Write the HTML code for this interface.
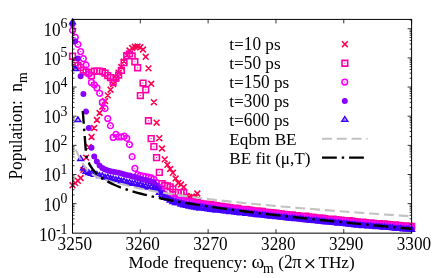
<!DOCTYPE html><html><head><meta charset="utf-8"><style>html,body{margin:0;padding:0;background:#fff}svg{display:block;will-change:transform;opacity:0.999}text{font-family:"Liberation Serif",serif;fill:#000}</style></head><body>
<svg width="443" height="278" viewBox="0 0 443 278">
<rect width="443" height="278" fill="#fff"/>
<path d="M69.6 182.4L75.4 188.2M69.6 188.2L75.4 182.4M72.3 180.2L78.1 186.0M72.3 186.0L78.1 180.2M75.0 177.9L80.8 183.7M75.0 183.7L80.8 177.9M77.7 175.1L83.5 180.9M77.7 180.9L83.5 175.1M80.5 167.1L86.3 172.9M80.5 172.9L86.3 167.1M83.2 154.7L89.0 160.5M83.2 160.5L89.0 154.7M85.9 144.1L91.7 149.9M85.9 149.9L91.7 144.1M88.6 134.1L94.4 139.9M88.6 139.9L94.4 134.1M91.3 125.1L97.1 130.9M91.3 130.9L97.1 125.1M94.0 117.1L99.8 122.9M94.0 122.9L99.8 117.1M96.7 110.1L102.5 115.9M96.7 115.9L102.5 110.1M99.4 103.8L105.2 109.6M99.4 109.6L105.2 103.8M102.2 98.1L108.0 103.9M102.2 103.9L108.0 98.1M104.9 92.5L110.7 98.3M104.9 98.3L110.7 92.5M107.6 86.8L113.4 92.6M107.6 92.6L113.4 86.8M110.3 81.1L116.1 86.9M110.3 86.9L116.1 81.1M113.0 75.5L118.8 81.3M113.0 81.3L118.8 75.5M115.7 69.8L121.5 75.6M115.7 75.6L121.5 69.8M118.4 64.1L124.2 69.9M118.4 69.9L124.2 64.1M121.1 58.5L126.9 64.3M121.1 64.3L126.9 58.5M123.9 52.1L129.7 57.9M123.9 57.9L129.7 52.1M126.6 47.6L132.4 53.4M126.6 53.4L132.4 47.6M129.3 45.1L135.1 50.9M129.3 50.9L135.1 45.1M132.0 43.9L137.8 49.7M132.0 49.7L137.8 43.9M134.7 43.6L140.5 49.4M134.7 49.4L140.5 43.6M137.4 44.4L143.2 50.2M137.4 50.2L143.2 44.4M140.1 46.6L145.9 52.4M140.1 52.4L145.9 46.6M142.8 53.9L148.6 59.7M142.8 59.7L148.6 53.9M145.6 65.5L151.4 71.3M145.6 71.3L151.4 65.5M148.3 80.9L154.1 86.7M148.3 86.7L154.1 80.9M151.0 99.3L156.8 105.1M151.0 105.1L156.8 99.3M153.7 119.8L159.5 125.6M153.7 125.6L159.5 119.8M156.4 135.3L162.2 141.1M156.4 141.1L162.2 135.3M159.1 145.6L164.9 151.4M159.1 151.4L164.9 145.6M161.8 156.5L167.6 162.3M161.8 162.3L167.6 156.5M164.5 161.9L170.3 167.7M164.5 167.7L170.3 161.9M167.3 166.1L173.1 171.9M167.3 171.9L173.1 166.1M170.0 169.9L175.8 175.7M170.0 175.7L175.8 169.9M172.7 175.6L178.5 181.4M172.7 181.4L178.5 175.6M175.4 180.1L181.2 185.9M175.4 185.9L181.2 180.1M178.1 181.6L183.9 187.4M178.1 187.4L183.9 181.6M180.8 184.1L186.6 189.9M180.8 189.9L186.6 184.1M183.5 193.1L189.3 198.9M183.5 198.9L189.3 193.1M186.3 194.1L192.1 199.9M186.3 199.9L192.1 194.1M189.0 193.6L194.8 199.4M189.0 199.4L194.8 193.6M191.7 195.1L197.5 200.9M191.7 200.9L197.5 195.1M194.4 190.6L200.2 196.4M194.4 196.4L200.2 190.6M197.1 201.4L202.9 207.2M197.1 207.2L202.9 201.4M199.8 201.5L205.6 207.3M199.8 207.3L205.6 201.5M202.5 201.9L208.3 207.7M202.5 207.7L208.3 201.9M205.2 201.8L211.0 207.6M205.2 207.6L211.0 201.8M208.0 202.7L213.8 208.5M208.0 208.5L213.8 202.7M210.7 203.1L216.5 208.9M210.7 208.9L216.5 203.1M213.4 203.5L219.2 209.3M213.4 209.3L219.2 203.5M216.1 203.7L221.9 209.5M216.1 209.5L221.9 203.7M218.8 204.2L224.6 210.0M218.8 210.0L224.6 204.2M221.5 204.4L227.3 210.2M221.5 210.2L227.3 204.4M224.2 204.6L230.0 210.4M224.2 210.4L230.0 204.6M226.9 205.5L232.7 211.3M226.9 211.3L232.7 205.5M229.7 205.8L235.5 211.6M229.7 211.6L235.5 205.8M232.4 206.3L238.2 212.1M232.4 212.1L238.2 206.3M235.1 206.3L240.9 212.1M235.1 212.1L240.9 206.3M237.8 206.5L243.6 212.3M237.8 212.3L243.6 206.5M240.5 206.8L246.3 212.6M240.5 212.6L246.3 206.8M243.2 206.9L249.0 212.7M243.2 212.7L249.0 206.9M245.9 207.8L251.7 213.6M245.9 213.6L251.7 207.8M248.6 207.7L254.4 213.5M248.6 213.5L254.4 207.7M251.4 208.0L257.2 213.8M251.4 213.8L257.2 208.0M254.1 208.6L259.9 214.4M254.1 214.4L259.9 208.6M256.8 209.3L262.6 215.1M256.8 215.1L262.6 209.3M259.5 209.4L265.3 215.2M259.5 215.2L265.3 209.4M262.2 209.4L268.0 215.2M262.2 215.2L268.0 209.4M264.9 209.8L270.7 215.6M264.9 215.6L270.7 209.8M267.6 210.5L273.4 216.3M267.6 216.3L273.4 210.5M270.3 210.6L276.1 216.4M270.3 216.4L276.1 210.6M273.1 210.8L278.9 216.6M273.1 216.6L278.9 210.8M275.8 211.3L281.6 217.1M275.8 217.1L281.6 211.3M278.5 211.8L284.3 217.6M278.5 217.6L284.3 211.8M281.2 212.4L287.0 218.2M281.2 218.2L287.0 212.4M283.9 211.9L289.7 217.7M283.9 217.7L289.7 211.9M286.6 212.4L292.4 218.2M286.6 218.2L292.4 212.4M289.3 212.6L295.1 218.4M289.3 218.4L295.1 212.6M292.0 212.5L297.8 218.3M292.0 218.3L297.8 212.5M294.8 213.2L300.6 219.0M294.8 219.0L300.6 213.2M297.5 213.5L303.3 219.3M297.5 219.3L303.3 213.5M300.2 214.3L306.0 220.1M300.2 220.1L306.0 214.3M302.9 214.3L308.7 220.1M302.9 220.1L308.7 214.3M305.6 214.2L311.4 220.0M305.6 220.0L311.4 214.2M308.3 215.1L314.1 220.9M308.3 220.9L314.1 215.1M311.0 215.1L316.8 220.9M311.0 220.9L316.8 215.1M313.8 215.0L319.6 220.8M313.8 220.8L319.6 215.0M316.5 215.6L322.3 221.4M316.5 221.4L322.3 215.6M319.2 215.9L325.0 221.7M319.2 221.7L325.0 215.9M321.9 216.1L327.7 221.9M321.9 221.9L327.7 216.1M324.6 216.6L330.4 222.4M324.6 222.4L330.4 216.6M327.3 216.3L333.1 222.1M327.3 222.1L333.1 216.3M330.0 217.0L335.8 222.8M330.0 222.8L335.8 217.0M332.7 217.6L338.5 223.4M332.7 223.4L338.5 217.6M335.5 217.8L341.3 223.6M335.5 223.6L341.3 217.8M338.2 218.2L344.0 224.0M338.2 224.0L344.0 218.2M340.9 218.5L346.7 224.3M340.9 224.3L346.7 218.5M343.6 218.8L349.4 224.6M343.6 224.6L349.4 218.8M346.3 218.4L352.1 224.2M346.3 224.2L352.1 218.4M349.0 219.2L354.8 225.0M349.0 225.0L354.8 219.2M351.7 218.8L357.5 224.6M351.7 224.6L357.5 218.8M354.4 219.4L360.2 225.2M354.4 225.2L360.2 219.4M357.2 219.3L363.0 225.1M357.2 225.1L363.0 219.3M359.9 220.3L365.7 226.1M359.9 226.1L365.7 220.3M362.6 220.6L368.4 226.4M362.6 226.4L368.4 220.6M365.3 220.4L371.1 226.2M365.3 226.2L371.1 220.4M368.0 221.2L373.8 227.0M368.0 227.0L373.8 221.2M370.7 220.8L376.5 226.6M370.7 226.6L376.5 220.8M373.4 221.2L379.2 227.0M373.4 227.0L379.2 221.2M376.1 221.4L381.9 227.2M376.1 227.2L381.9 221.4M378.9 221.4L384.7 227.2M378.9 227.2L384.7 221.4M381.6 222.0L387.4 227.8M381.6 227.8L387.4 222.0M384.3 222.6L390.1 228.4M384.3 228.4L390.1 222.6M387.0 222.1L392.8 227.9M387.0 227.9L392.8 222.1M389.7 222.8L395.5 228.6M389.7 228.6L395.5 222.8M392.4 222.8L398.2 228.6M392.4 228.6L398.2 222.8M395.1 223.5L400.9 229.3M395.1 229.3L400.9 223.5M397.8 223.4L403.6 229.2M397.8 229.2L403.6 223.4M400.6 223.6L406.4 229.4M400.6 229.4L406.4 223.6M403.3 223.9L409.1 229.7M403.3 229.7L409.1 223.9M406.0 224.0L411.8 229.8M406.0 229.8L411.8 224.0M408.7 223.8L414.5 229.6M408.7 229.6L414.5 223.8" stroke="#ff0050" stroke-width="1.55" fill="none"/>
<path d="M69.7 53.4h5.7v5.7h-5.7zM72.4 60.1h5.7v5.7h-5.7zM75.1 62.6h5.7v5.7h-5.7zM77.8 64.5h5.7v5.7h-5.7zM80.5 67.2h5.7v5.7h-5.7zM83.2 69.0h5.7v5.7h-5.7zM85.9 69.8h5.7v5.7h-5.7zM88.6 72.8h5.7v5.7h-5.7zM91.4 68.4h5.7v5.7h-5.7zM94.1 68.0h5.7v5.7h-5.7zM96.8 68.2h5.7v5.7h-5.7zM99.5 68.8h5.7v5.7h-5.7zM102.2 70.2h5.7v5.7h-5.7zM104.9 72.7h5.7v5.7h-5.7zM107.6 74.7h5.7v5.7h-5.7zM110.3 79.2h5.7v5.7h-5.7zM113.1 75.2h5.7v5.7h-5.7zM115.8 72.2h5.7v5.7h-5.7zM118.5 67.5h5.7v5.7h-5.7zM121.2 59.8h5.7v5.7h-5.7zM123.9 53.1h5.7v5.7h-5.7zM126.6 51.1h5.7v5.7h-5.7zM129.3 53.1h5.7v5.7h-5.7zM132.0 58.9h5.7v5.7h-5.7zM134.8 64.9h5.7v5.7h-5.7zM137.5 92.7h5.7v5.7h-5.7zM140.2 80.2h5.7v5.7h-5.7zM142.9 86.9h5.7v5.7h-5.7zM145.6 117.9h5.7v5.7h-5.7zM148.3 135.8h5.7v5.7h-5.7zM151.0 143.8h5.7v5.7h-5.7zM153.7 154.8h5.7v5.7h-5.7zM156.5 169.5h5.7v5.7h-5.7zM159.2 180.7h5.7v5.7h-5.7zM161.9 182.6h5.7v5.7h-5.7zM164.6 183.0h5.7v5.7h-5.7zM167.3 184.0h5.7v5.7h-5.7zM170.0 186.2h5.7v5.7h-5.7zM172.7 189.5h5.7v5.7h-5.7zM175.4 189.5h5.7v5.7h-5.7zM178.2 189.6h5.7v5.7h-5.7zM180.9 189.8h5.7v5.7h-5.7zM183.6 197.9h5.7v5.7h-5.7zM186.3 197.9h5.7v5.7h-5.7zM189.0 198.8h5.7v5.7h-5.7zM191.7 199.5h5.7v5.7h-5.7zM194.4 199.7h5.7v5.7h-5.7zM197.2 200.5h5.7v5.7h-5.7zM199.9 201.1h5.7v5.7h-5.7zM202.6 201.3h5.7v5.7h-5.7zM205.3 201.6h5.7v5.7h-5.7zM208.0 201.6h5.7v5.7h-5.7zM210.7 202.4h5.7v5.7h-5.7zM213.4 202.9h5.7v5.7h-5.7zM216.1 203.2h5.7v5.7h-5.7zM218.9 203.5h5.7v5.7h-5.7zM221.6 204.1h5.7v5.7h-5.7zM224.3 204.2h5.7v5.7h-5.7zM227.0 204.7h5.7v5.7h-5.7zM229.7 205.2h5.7v5.7h-5.7zM232.4 205.2h5.7v5.7h-5.7zM235.1 205.6h5.7v5.7h-5.7zM237.8 206.5h5.7v5.7h-5.7zM240.6 206.6h5.7v5.7h-5.7zM243.3 206.5h5.7v5.7h-5.7zM246.0 207.0h5.7v5.7h-5.7zM248.7 207.5h5.7v5.7h-5.7zM251.4 208.0h5.7v5.7h-5.7zM254.1 208.1h5.7v5.7h-5.7zM256.8 208.3h5.7v5.7h-5.7zM259.5 208.6h5.7v5.7h-5.7zM262.3 209.2h5.7v5.7h-5.7zM265.0 209.5h5.7v5.7h-5.7zM267.7 209.7h5.7v5.7h-5.7zM270.4 210.1h5.7v5.7h-5.7zM273.1 210.4h5.7v5.7h-5.7zM275.8 210.9h5.7v5.7h-5.7zM278.5 211.0h5.7v5.7h-5.7zM281.2 211.5h5.7v5.7h-5.7zM284.0 211.9h5.7v5.7h-5.7zM286.7 212.1h5.7v5.7h-5.7zM289.4 212.1h5.7v5.7h-5.7zM292.1 212.9h5.7v5.7h-5.7zM294.8 212.8h5.7v5.7h-5.7zM297.5 213.3h5.7v5.7h-5.7zM300.2 213.3h5.7v5.7h-5.7zM303.0 213.4h5.7v5.7h-5.7zM305.7 214.1h5.7v5.7h-5.7zM308.4 214.4h5.7v5.7h-5.7zM311.1 214.6h5.7v5.7h-5.7zM313.8 215.0h5.7v5.7h-5.7zM316.5 215.1h5.7v5.7h-5.7zM319.2 215.3h5.7v5.7h-5.7zM321.9 215.7h5.7v5.7h-5.7zM324.7 216.4h5.7v5.7h-5.7zM327.4 216.4h5.7v5.7h-5.7zM330.1 216.4h5.7v5.7h-5.7zM332.8 216.9h5.7v5.7h-5.7zM335.5 217.0h5.7v5.7h-5.7zM338.2 217.3h5.7v5.7h-5.7zM340.9 217.8h5.7v5.7h-5.7zM343.6 217.8h5.7v5.7h-5.7zM346.4 217.8h5.7v5.7h-5.7zM349.1 218.3h5.7v5.7h-5.7zM351.8 218.7h5.7v5.7h-5.7zM354.5 219.0h5.7v5.7h-5.7zM357.2 219.5h5.7v5.7h-5.7zM359.9 219.3h5.7v5.7h-5.7zM362.6 219.9h5.7v5.7h-5.7zM365.3 220.0h5.7v5.7h-5.7zM368.1 220.1h5.7v5.7h-5.7zM370.8 220.6h5.7v5.7h-5.7zM373.5 220.7h5.7v5.7h-5.7zM376.2 220.7h5.7v5.7h-5.7zM378.9 221.3h5.7v5.7h-5.7zM381.6 221.1h5.7v5.7h-5.7zM384.3 221.6h5.7v5.7h-5.7zM387.0 221.8h5.7v5.7h-5.7zM389.8 222.1h5.7v5.7h-5.7zM392.5 222.1h5.7v5.7h-5.7zM395.2 222.5h5.7v5.7h-5.7zM397.9 222.7h5.7v5.7h-5.7zM400.6 223.1h5.7v5.7h-5.7zM403.3 223.0h5.7v5.7h-5.7zM406.0 223.4h5.7v5.7h-5.7zM408.8 223.6h5.7v5.7h-5.7z" stroke="#ff00aa" stroke-width="1.6" fill="none"/>
<path d="M72.0 55.7h1.0v1.0h-1.0zM74.7 62.5h1.0v1.0h-1.0zM77.4 65.0h1.0v1.0h-1.0zM80.1 66.8h1.0v1.0h-1.0zM82.9 69.5h1.0v1.0h-1.0zM85.6 71.3h1.0v1.0h-1.0zM88.3 72.1h1.0v1.0h-1.0zM91.0 75.1h1.0v1.0h-1.0zM93.7 70.7h1.0v1.0h-1.0zM96.4 70.3h1.0v1.0h-1.0zM99.1 70.5h1.0v1.0h-1.0zM101.8 71.1h1.0v1.0h-1.0zM104.6 72.5h1.0v1.0h-1.0zM107.3 75.0h1.0v1.0h-1.0zM110.0 77.0h1.0v1.0h-1.0zM112.7 81.5h1.0v1.0h-1.0zM115.4 77.5h1.0v1.0h-1.0zM118.1 74.5h1.0v1.0h-1.0zM120.8 69.8h1.0v1.0h-1.0zM123.5 62.1h1.0v1.0h-1.0zM126.3 55.5h1.0v1.0h-1.0zM129.0 53.5h1.0v1.0h-1.0zM131.7 55.5h1.0v1.0h-1.0zM134.4 61.3h1.0v1.0h-1.0zM137.1 67.2h1.0v1.0h-1.0zM139.8 95.0h1.0v1.0h-1.0zM142.5 82.5h1.0v1.0h-1.0zM145.2 89.2h1.0v1.0h-1.0zM148.0 120.2h1.0v1.0h-1.0zM150.7 138.1h1.0v1.0h-1.0zM153.4 146.2h1.0v1.0h-1.0zM156.1 157.1h1.0v1.0h-1.0zM158.8 171.8h1.0v1.0h-1.0zM161.5 183.0h1.0v1.0h-1.0zM164.2 184.9h1.0v1.0h-1.0zM166.9 185.3h1.0v1.0h-1.0zM169.7 186.3h1.0v1.0h-1.0zM172.4 188.5h1.0v1.0h-1.0zM175.1 191.8h1.0v1.0h-1.0zM177.8 191.8h1.0v1.0h-1.0zM180.5 191.9h1.0v1.0h-1.0zM183.2 192.1h1.0v1.0h-1.0zM185.9 200.3h1.0v1.0h-1.0zM188.7 200.3h1.0v1.0h-1.0zM191.4 201.2h1.0v1.0h-1.0zM194.1 201.8h1.0v1.0h-1.0zM196.8 202.1h1.0v1.0h-1.0zM199.5 202.8h1.0v1.0h-1.0zM202.2 203.5h1.0v1.0h-1.0zM204.9 203.7h1.0v1.0h-1.0zM207.6 203.9h1.0v1.0h-1.0zM210.4 204.0h1.0v1.0h-1.0zM213.1 204.8h1.0v1.0h-1.0zM215.8 205.2h1.0v1.0h-1.0zM218.5 205.6h1.0v1.0h-1.0zM221.2 205.8h1.0v1.0h-1.0zM223.9 206.4h1.0v1.0h-1.0zM226.6 206.6h1.0v1.0h-1.0zM229.3 207.0h1.0v1.0h-1.0zM232.1 207.5h1.0v1.0h-1.0zM234.8 207.5h1.0v1.0h-1.0zM237.5 208.0h1.0v1.0h-1.0zM240.2 208.8h1.0v1.0h-1.0zM242.9 208.9h1.0v1.0h-1.0zM245.6 208.8h1.0v1.0h-1.0zM248.3 209.4h1.0v1.0h-1.0zM251.0 209.9h1.0v1.0h-1.0zM253.8 210.3h1.0v1.0h-1.0zM256.5 210.5h1.0v1.0h-1.0zM259.2 210.7h1.0v1.0h-1.0zM261.9 211.0h1.0v1.0h-1.0zM264.6 211.6h1.0v1.0h-1.0zM267.3 211.8h1.0v1.0h-1.0zM270.0 212.0h1.0v1.0h-1.0zM272.7 212.4h1.0v1.0h-1.0zM275.5 212.7h1.0v1.0h-1.0zM278.2 213.3h1.0v1.0h-1.0zM280.9 213.3h1.0v1.0h-1.0zM283.6 213.8h1.0v1.0h-1.0zM286.3 214.2h1.0v1.0h-1.0zM289.0 214.4h1.0v1.0h-1.0zM291.7 214.5h1.0v1.0h-1.0zM294.4 215.2h1.0v1.0h-1.0zM297.2 215.1h1.0v1.0h-1.0zM299.9 215.6h1.0v1.0h-1.0zM302.6 215.7h1.0v1.0h-1.0zM305.3 215.8h1.0v1.0h-1.0zM308.0 216.5h1.0v1.0h-1.0zM310.7 216.8h1.0v1.0h-1.0zM313.4 217.0h1.0v1.0h-1.0zM316.2 217.3h1.0v1.0h-1.0zM318.9 217.4h1.0v1.0h-1.0zM321.6 217.7h1.0v1.0h-1.0zM324.3 218.0h1.0v1.0h-1.0zM327.0 218.7h1.0v1.0h-1.0zM329.7 218.8h1.0v1.0h-1.0zM332.4 218.8h1.0v1.0h-1.0zM335.1 219.3h1.0v1.0h-1.0zM337.9 219.3h1.0v1.0h-1.0zM340.6 219.6h1.0v1.0h-1.0zM343.3 220.1h1.0v1.0h-1.0zM346.0 220.1h1.0v1.0h-1.0zM348.7 220.2h1.0v1.0h-1.0zM351.4 220.6h1.0v1.0h-1.0zM354.1 221.1h1.0v1.0h-1.0zM356.8 221.4h1.0v1.0h-1.0zM359.6 221.9h1.0v1.0h-1.0zM362.3 221.7h1.0v1.0h-1.0zM365.0 222.2h1.0v1.0h-1.0zM367.7 222.4h1.0v1.0h-1.0zM370.4 222.5h1.0v1.0h-1.0zM373.1 222.9h1.0v1.0h-1.0zM375.8 223.1h1.0v1.0h-1.0zM378.5 223.0h1.0v1.0h-1.0zM381.3 223.7h1.0v1.0h-1.0zM384.0 223.4h1.0v1.0h-1.0zM386.7 223.9h1.0v1.0h-1.0zM389.4 224.1h1.0v1.0h-1.0zM392.1 224.4h1.0v1.0h-1.0zM394.8 224.4h1.0v1.0h-1.0zM397.5 224.8h1.0v1.0h-1.0zM400.2 225.0h1.0v1.0h-1.0zM403.0 225.5h1.0v1.0h-1.0zM405.7 225.3h1.0v1.0h-1.0zM408.4 225.8h1.0v1.0h-1.0zM411.1 225.9h1.0v1.0h-1.0z" fill="#ff00aa"/>
<path d="M69.7 30.3a2.85 2.85 0 1 0 5.7 0a2.85 2.85 0 1 0 -5.7 0zM72.4 37.3a2.85 2.85 0 1 0 5.7 0a2.85 2.85 0 1 0 -5.7 0zM75.1 44.4a2.85 2.85 0 1 0 5.7 0a2.85 2.85 0 1 0 -5.7 0zM77.8 51.6a2.85 2.85 0 1 0 5.7 0a2.85 2.85 0 1 0 -5.7 0zM80.5 58.6a2.85 2.85 0 1 0 5.7 0a2.85 2.85 0 1 0 -5.7 0zM83.2 65.0a2.85 2.85 0 1 0 5.7 0a2.85 2.85 0 1 0 -5.7 0zM85.9 74.3a2.85 2.85 0 1 0 5.7 0a2.85 2.85 0 1 0 -5.7 0zM88.6 82.4a2.85 2.85 0 1 0 5.7 0a2.85 2.85 0 1 0 -5.7 0zM91.4 84.8a2.85 2.85 0 1 0 5.7 0a2.85 2.85 0 1 0 -5.7 0zM94.1 87.9a2.85 2.85 0 1 0 5.7 0a2.85 2.85 0 1 0 -5.7 0zM96.8 93.3a2.85 2.85 0 1 0 5.7 0a2.85 2.85 0 1 0 -5.7 0zM99.5 102.2a2.85 2.85 0 1 0 5.7 0a2.85 2.85 0 1 0 -5.7 0zM102.2 108.5a2.85 2.85 0 1 0 5.7 0a2.85 2.85 0 1 0 -5.7 0zM104.9 118.5a2.85 2.85 0 1 0 5.7 0a2.85 2.85 0 1 0 -5.7 0zM107.6 125.7a2.85 2.85 0 1 0 5.7 0a2.85 2.85 0 1 0 -5.7 0zM110.3 137.4a2.85 2.85 0 1 0 5.7 0a2.85 2.85 0 1 0 -5.7 0zM113.1 134.4a2.85 2.85 0 1 0 5.7 0a2.85 2.85 0 1 0 -5.7 0zM115.8 136.9a2.85 2.85 0 1 0 5.7 0a2.85 2.85 0 1 0 -5.7 0zM118.5 136.9a2.85 2.85 0 1 0 5.7 0a2.85 2.85 0 1 0 -5.7 0zM121.2 136.2a2.85 2.85 0 1 0 5.7 0a2.85 2.85 0 1 0 -5.7 0zM123.9 138.3a2.85 2.85 0 1 0 5.7 0a2.85 2.85 0 1 0 -5.7 0zM126.6 144.5a2.85 2.85 0 1 0 5.7 0a2.85 2.85 0 1 0 -5.7 0zM129.3 156.7a2.85 2.85 0 1 0 5.7 0a2.85 2.85 0 1 0 -5.7 0zM132.0 168.4a2.85 2.85 0 1 0 5.7 0a2.85 2.85 0 1 0 -5.7 0zM134.8 174.6a2.85 2.85 0 1 0 5.7 0a2.85 2.85 0 1 0 -5.7 0zM137.5 175.6a2.85 2.85 0 1 0 5.7 0a2.85 2.85 0 1 0 -5.7 0zM140.2 176.2a2.85 2.85 0 1 0 5.7 0a2.85 2.85 0 1 0 -5.7 0zM142.9 176.7a2.85 2.85 0 1 0 5.7 0a2.85 2.85 0 1 0 -5.7 0zM145.6 177.2a2.85 2.85 0 1 0 5.7 0a2.85 2.85 0 1 0 -5.7 0zM148.3 177.9a2.85 2.85 0 1 0 5.7 0a2.85 2.85 0 1 0 -5.7 0zM151.0 179.0a2.85 2.85 0 1 0 5.7 0a2.85 2.85 0 1 0 -5.7 0zM153.7 182.5a2.85 2.85 0 1 0 5.7 0a2.85 2.85 0 1 0 -5.7 0zM156.5 187.0a2.85 2.85 0 1 0 5.7 0a2.85 2.85 0 1 0 -5.7 0zM159.2 191.2a2.85 2.85 0 1 0 5.7 0a2.85 2.85 0 1 0 -5.7 0zM161.9 194.3a2.85 2.85 0 1 0 5.7 0a2.85 2.85 0 1 0 -5.7 0zM164.6 196.6a2.85 2.85 0 1 0 5.7 0a2.85 2.85 0 1 0 -5.7 0zM167.3 198.0a2.85 2.85 0 1 0 5.7 0a2.85 2.85 0 1 0 -5.7 0zM170.0 198.3a2.85 2.85 0 1 0 5.7 0a2.85 2.85 0 1 0 -5.7 0zM172.7 198.8a2.85 2.85 0 1 0 5.7 0a2.85 2.85 0 1 0 -5.7 0zM175.4 199.9a2.85 2.85 0 1 0 5.7 0a2.85 2.85 0 1 0 -5.7 0zM178.2 200.2a2.85 2.85 0 1 0 5.7 0a2.85 2.85 0 1 0 -5.7 0zM180.9 201.1a2.85 2.85 0 1 0 5.7 0a2.85 2.85 0 1 0 -5.7 0zM183.6 201.8a2.85 2.85 0 1 0 5.7 0a2.85 2.85 0 1 0 -5.7 0zM186.3 202.2a2.85 2.85 0 1 0 5.7 0a2.85 2.85 0 1 0 -5.7 0zM189.0 202.8a2.85 2.85 0 1 0 5.7 0a2.85 2.85 0 1 0 -5.7 0zM191.7 203.3a2.85 2.85 0 1 0 5.7 0a2.85 2.85 0 1 0 -5.7 0zM194.4 203.9a2.85 2.85 0 1 0 5.7 0a2.85 2.85 0 1 0 -5.7 0zM197.2 204.3a2.85 2.85 0 1 0 5.7 0a2.85 2.85 0 1 0 -5.7 0zM199.9 204.7a2.85 2.85 0 1 0 5.7 0a2.85 2.85 0 1 0 -5.7 0zM202.6 205.3a2.85 2.85 0 1 0 5.7 0a2.85 2.85 0 1 0 -5.7 0zM205.3 206.0a2.85 2.85 0 1 0 5.7 0a2.85 2.85 0 1 0 -5.7 0zM208.0 206.3a2.85 2.85 0 1 0 5.7 0a2.85 2.85 0 1 0 -5.7 0zM210.7 206.9a2.85 2.85 0 1 0 5.7 0a2.85 2.85 0 1 0 -5.7 0zM213.4 207.2a2.85 2.85 0 1 0 5.7 0a2.85 2.85 0 1 0 -5.7 0zM216.1 207.3a2.85 2.85 0 1 0 5.7 0a2.85 2.85 0 1 0 -5.7 0zM218.9 207.7a2.85 2.85 0 1 0 5.7 0a2.85 2.85 0 1 0 -5.7 0zM221.6 207.8a2.85 2.85 0 1 0 5.7 0a2.85 2.85 0 1 0 -5.7 0zM224.3 208.3a2.85 2.85 0 1 0 5.7 0a2.85 2.85 0 1 0 -5.7 0zM227.0 208.6a2.85 2.85 0 1 0 5.7 0a2.85 2.85 0 1 0 -5.7 0zM229.7 209.1a2.85 2.85 0 1 0 5.7 0a2.85 2.85 0 1 0 -5.7 0zM232.4 209.5a2.85 2.85 0 1 0 5.7 0a2.85 2.85 0 1 0 -5.7 0zM235.1 209.7a2.85 2.85 0 1 0 5.7 0a2.85 2.85 0 1 0 -5.7 0zM237.8 210.0a2.85 2.85 0 1 0 5.7 0a2.85 2.85 0 1 0 -5.7 0zM240.6 210.2a2.85 2.85 0 1 0 5.7 0a2.85 2.85 0 1 0 -5.7 0zM243.3 210.7a2.85 2.85 0 1 0 5.7 0a2.85 2.85 0 1 0 -5.7 0zM246.0 211.1a2.85 2.85 0 1 0 5.7 0a2.85 2.85 0 1 0 -5.7 0zM248.7 211.5a2.85 2.85 0 1 0 5.7 0a2.85 2.85 0 1 0 -5.7 0zM251.4 211.7a2.85 2.85 0 1 0 5.7 0a2.85 2.85 0 1 0 -5.7 0zM254.1 212.4a2.85 2.85 0 1 0 5.7 0a2.85 2.85 0 1 0 -5.7 0zM256.8 212.6a2.85 2.85 0 1 0 5.7 0a2.85 2.85 0 1 0 -5.7 0zM259.5 212.8a2.85 2.85 0 1 0 5.7 0a2.85 2.85 0 1 0 -5.7 0zM262.3 213.1a2.85 2.85 0 1 0 5.7 0a2.85 2.85 0 1 0 -5.7 0zM265.0 213.4a2.85 2.85 0 1 0 5.7 0a2.85 2.85 0 1 0 -5.7 0zM267.7 213.8a2.85 2.85 0 1 0 5.7 0a2.85 2.85 0 1 0 -5.7 0zM270.4 214.2a2.85 2.85 0 1 0 5.7 0a2.85 2.85 0 1 0 -5.7 0zM273.1 214.6a2.85 2.85 0 1 0 5.7 0a2.85 2.85 0 1 0 -5.7 0zM275.8 214.9a2.85 2.85 0 1 0 5.7 0a2.85 2.85 0 1 0 -5.7 0zM278.5 215.4a2.85 2.85 0 1 0 5.7 0a2.85 2.85 0 1 0 -5.7 0zM281.2 215.6a2.85 2.85 0 1 0 5.7 0a2.85 2.85 0 1 0 -5.7 0zM284.0 215.7a2.85 2.85 0 1 0 5.7 0a2.85 2.85 0 1 0 -5.7 0zM286.7 216.1a2.85 2.85 0 1 0 5.7 0a2.85 2.85 0 1 0 -5.7 0zM289.4 216.3a2.85 2.85 0 1 0 5.7 0a2.85 2.85 0 1 0 -5.7 0zM292.1 216.6a2.85 2.85 0 1 0 5.7 0a2.85 2.85 0 1 0 -5.7 0zM294.8 217.2a2.85 2.85 0 1 0 5.7 0a2.85 2.85 0 1 0 -5.7 0zM297.5 217.2a2.85 2.85 0 1 0 5.7 0a2.85 2.85 0 1 0 -5.7 0zM300.2 217.8a2.85 2.85 0 1 0 5.7 0a2.85 2.85 0 1 0 -5.7 0zM303.0 217.8a2.85 2.85 0 1 0 5.7 0a2.85 2.85 0 1 0 -5.7 0zM305.7 218.2a2.85 2.85 0 1 0 5.7 0a2.85 2.85 0 1 0 -5.7 0zM308.4 218.6a2.85 2.85 0 1 0 5.7 0a2.85 2.85 0 1 0 -5.7 0zM311.1 218.7a2.85 2.85 0 1 0 5.7 0a2.85 2.85 0 1 0 -5.7 0zM313.8 219.0a2.85 2.85 0 1 0 5.7 0a2.85 2.85 0 1 0 -5.7 0zM316.5 219.2a2.85 2.85 0 1 0 5.7 0a2.85 2.85 0 1 0 -5.7 0zM319.2 219.4a2.85 2.85 0 1 0 5.7 0a2.85 2.85 0 1 0 -5.7 0zM321.9 219.8a2.85 2.85 0 1 0 5.7 0a2.85 2.85 0 1 0 -5.7 0zM324.7 220.0a2.85 2.85 0 1 0 5.7 0a2.85 2.85 0 1 0 -5.7 0zM327.4 220.6a2.85 2.85 0 1 0 5.7 0a2.85 2.85 0 1 0 -5.7 0zM330.1 220.6a2.85 2.85 0 1 0 5.7 0a2.85 2.85 0 1 0 -5.7 0zM332.8 221.1a2.85 2.85 0 1 0 5.7 0a2.85 2.85 0 1 0 -5.7 0zM335.5 220.7a2.85 2.85 0 1 0 5.7 0a2.85 2.85 0 1 0 -5.7 0zM338.2 221.4a2.85 2.85 0 1 0 5.7 0a2.85 2.85 0 1 0 -5.7 0zM340.9 221.8a2.85 2.85 0 1 0 5.7 0a2.85 2.85 0 1 0 -5.7 0zM343.6 221.9a2.85 2.85 0 1 0 5.7 0a2.85 2.85 0 1 0 -5.7 0zM346.4 222.4a2.85 2.85 0 1 0 5.7 0a2.85 2.85 0 1 0 -5.7 0zM349.1 222.6a2.85 2.85 0 1 0 5.7 0a2.85 2.85 0 1 0 -5.7 0zM351.8 222.7a2.85 2.85 0 1 0 5.7 0a2.85 2.85 0 1 0 -5.7 0zM354.5 223.1a2.85 2.85 0 1 0 5.7 0a2.85 2.85 0 1 0 -5.7 0zM357.2 223.7a2.85 2.85 0 1 0 5.7 0a2.85 2.85 0 1 0 -5.7 0zM359.9 223.6a2.85 2.85 0 1 0 5.7 0a2.85 2.85 0 1 0 -5.7 0zM362.6 223.8a2.85 2.85 0 1 0 5.7 0a2.85 2.85 0 1 0 -5.7 0zM365.3 223.9a2.85 2.85 0 1 0 5.7 0a2.85 2.85 0 1 0 -5.7 0zM368.1 224.2a2.85 2.85 0 1 0 5.7 0a2.85 2.85 0 1 0 -5.7 0zM370.8 224.3a2.85 2.85 0 1 0 5.7 0a2.85 2.85 0 1 0 -5.7 0zM373.5 224.7a2.85 2.85 0 1 0 5.7 0a2.85 2.85 0 1 0 -5.7 0zM376.2 225.3a2.85 2.85 0 1 0 5.7 0a2.85 2.85 0 1 0 -5.7 0zM378.9 225.3a2.85 2.85 0 1 0 5.7 0a2.85 2.85 0 1 0 -5.7 0zM381.6 225.5a2.85 2.85 0 1 0 5.7 0a2.85 2.85 0 1 0 -5.7 0zM384.3 225.8a2.85 2.85 0 1 0 5.7 0a2.85 2.85 0 1 0 -5.7 0zM387.0 226.1a2.85 2.85 0 1 0 5.7 0a2.85 2.85 0 1 0 -5.7 0zM389.8 226.1a2.85 2.85 0 1 0 5.7 0a2.85 2.85 0 1 0 -5.7 0zM392.5 226.6a2.85 2.85 0 1 0 5.7 0a2.85 2.85 0 1 0 -5.7 0zM395.2 226.7a2.85 2.85 0 1 0 5.7 0a2.85 2.85 0 1 0 -5.7 0zM397.9 226.8a2.85 2.85 0 1 0 5.7 0a2.85 2.85 0 1 0 -5.7 0zM400.6 227.2a2.85 2.85 0 1 0 5.7 0a2.85 2.85 0 1 0 -5.7 0zM403.3 226.9a2.85 2.85 0 1 0 5.7 0a2.85 2.85 0 1 0 -5.7 0zM406.0 227.4a2.85 2.85 0 1 0 5.7 0a2.85 2.85 0 1 0 -5.7 0zM408.8 227.7a2.85 2.85 0 1 0 5.7 0a2.85 2.85 0 1 0 -5.7 0z" stroke="#f800f8" stroke-width="1.55" fill="none"/>
<path d="M72.0 29.8h1.0v1.0h-1.0zM74.7 36.8h1.0v1.0h-1.0zM77.4 43.9h1.0v1.0h-1.0zM80.1 51.1h1.0v1.0h-1.0zM82.9 58.1h1.0v1.0h-1.0zM85.6 64.5h1.0v1.0h-1.0zM88.3 73.8h1.0v1.0h-1.0zM91.0 81.9h1.0v1.0h-1.0zM93.7 84.3h1.0v1.0h-1.0zM96.4 87.4h1.0v1.0h-1.0zM99.1 92.8h1.0v1.0h-1.0zM101.8 101.7h1.0v1.0h-1.0zM104.6 108.0h1.0v1.0h-1.0zM107.3 118.0h1.0v1.0h-1.0zM110.0 125.2h1.0v1.0h-1.0zM112.7 136.9h1.0v1.0h-1.0zM115.4 133.9h1.0v1.0h-1.0zM118.1 136.4h1.0v1.0h-1.0zM120.8 136.4h1.0v1.0h-1.0zM123.5 135.7h1.0v1.0h-1.0zM126.3 137.8h1.0v1.0h-1.0zM129.0 144.0h1.0v1.0h-1.0zM131.7 156.2h1.0v1.0h-1.0zM134.4 167.9h1.0v1.0h-1.0zM137.1 174.1h1.0v1.0h-1.0zM139.8 175.1h1.0v1.0h-1.0zM142.5 175.7h1.0v1.0h-1.0zM145.2 176.2h1.0v1.0h-1.0zM148.0 176.7h1.0v1.0h-1.0zM150.7 177.4h1.0v1.0h-1.0zM153.4 178.5h1.0v1.0h-1.0zM156.1 182.0h1.0v1.0h-1.0zM158.8 186.5h1.0v1.0h-1.0zM161.5 190.7h1.0v1.0h-1.0zM164.2 193.8h1.0v1.0h-1.0zM166.9 196.1h1.0v1.0h-1.0zM169.7 197.5h1.0v1.0h-1.0zM172.4 197.8h1.0v1.0h-1.0zM175.1 198.3h1.0v1.0h-1.0zM177.8 199.4h1.0v1.0h-1.0zM180.5 199.7h1.0v1.0h-1.0zM183.2 200.6h1.0v1.0h-1.0zM185.9 201.3h1.0v1.0h-1.0zM188.7 201.7h1.0v1.0h-1.0zM191.4 202.3h1.0v1.0h-1.0zM194.1 202.8h1.0v1.0h-1.0zM196.8 203.4h1.0v1.0h-1.0zM199.5 203.8h1.0v1.0h-1.0zM202.2 204.2h1.0v1.0h-1.0zM204.9 204.8h1.0v1.0h-1.0zM207.6 205.5h1.0v1.0h-1.0zM210.4 205.8h1.0v1.0h-1.0zM213.1 206.4h1.0v1.0h-1.0zM215.8 206.7h1.0v1.0h-1.0zM218.5 206.8h1.0v1.0h-1.0zM221.2 207.2h1.0v1.0h-1.0zM223.9 207.3h1.0v1.0h-1.0zM226.6 207.8h1.0v1.0h-1.0zM229.3 208.1h1.0v1.0h-1.0zM232.1 208.6h1.0v1.0h-1.0zM234.8 209.0h1.0v1.0h-1.0zM237.5 209.2h1.0v1.0h-1.0zM240.2 209.5h1.0v1.0h-1.0zM242.9 209.7h1.0v1.0h-1.0zM245.6 210.2h1.0v1.0h-1.0zM248.3 210.6h1.0v1.0h-1.0zM251.0 211.0h1.0v1.0h-1.0zM253.8 211.2h1.0v1.0h-1.0zM256.5 211.9h1.0v1.0h-1.0zM259.2 212.1h1.0v1.0h-1.0zM261.9 212.3h1.0v1.0h-1.0zM264.6 212.6h1.0v1.0h-1.0zM267.3 212.9h1.0v1.0h-1.0zM270.0 213.3h1.0v1.0h-1.0zM272.7 213.7h1.0v1.0h-1.0zM275.5 214.1h1.0v1.0h-1.0zM278.2 214.4h1.0v1.0h-1.0zM280.9 214.9h1.0v1.0h-1.0zM283.6 215.1h1.0v1.0h-1.0zM286.3 215.2h1.0v1.0h-1.0zM289.0 215.6h1.0v1.0h-1.0zM291.7 215.8h1.0v1.0h-1.0zM294.4 216.1h1.0v1.0h-1.0zM297.2 216.7h1.0v1.0h-1.0zM299.9 216.7h1.0v1.0h-1.0zM302.6 217.3h1.0v1.0h-1.0zM305.3 217.3h1.0v1.0h-1.0zM308.0 217.7h1.0v1.0h-1.0zM310.7 218.1h1.0v1.0h-1.0zM313.4 218.2h1.0v1.0h-1.0zM316.2 218.5h1.0v1.0h-1.0zM318.9 218.7h1.0v1.0h-1.0zM321.6 218.9h1.0v1.0h-1.0zM324.3 219.3h1.0v1.0h-1.0zM327.0 219.5h1.0v1.0h-1.0zM329.7 220.1h1.0v1.0h-1.0zM332.4 220.1h1.0v1.0h-1.0zM335.1 220.6h1.0v1.0h-1.0zM337.9 220.2h1.0v1.0h-1.0zM340.6 220.9h1.0v1.0h-1.0zM343.3 221.3h1.0v1.0h-1.0zM346.0 221.4h1.0v1.0h-1.0zM348.7 221.9h1.0v1.0h-1.0zM351.4 222.1h1.0v1.0h-1.0zM354.1 222.2h1.0v1.0h-1.0zM356.8 222.6h1.0v1.0h-1.0zM359.6 223.2h1.0v1.0h-1.0zM362.3 223.1h1.0v1.0h-1.0zM365.0 223.3h1.0v1.0h-1.0zM367.7 223.4h1.0v1.0h-1.0zM370.4 223.7h1.0v1.0h-1.0zM373.1 223.8h1.0v1.0h-1.0zM375.8 224.2h1.0v1.0h-1.0zM378.5 224.8h1.0v1.0h-1.0zM381.3 224.8h1.0v1.0h-1.0zM384.0 225.0h1.0v1.0h-1.0zM386.7 225.3h1.0v1.0h-1.0zM389.4 225.6h1.0v1.0h-1.0zM392.1 225.6h1.0v1.0h-1.0zM394.8 226.1h1.0v1.0h-1.0zM397.5 226.2h1.0v1.0h-1.0zM400.2 226.3h1.0v1.0h-1.0zM403.0 226.7h1.0v1.0h-1.0zM405.7 226.4h1.0v1.0h-1.0zM408.4 226.9h1.0v1.0h-1.0zM411.1 227.2h1.0v1.0h-1.0z" fill="#f800f8"/>
<path d="M71.0 24.2a1.5 1.5 0 1 0 3.0 0a1.5 1.5 0 1 0 -3.0 0zM73.7 41.3a1.5 1.5 0 1 0 3.0 0a1.5 1.5 0 1 0 -3.0 0zM76.4 58.4a1.5 1.5 0 1 0 3.0 0a1.5 1.5 0 1 0 -3.0 0zM79.1 76.3a1.5 1.5 0 1 0 3.0 0a1.5 1.5 0 1 0 -3.0 0zM81.9 94.0a1.5 1.5 0 1 0 3.0 0a1.5 1.5 0 1 0 -3.0 0zM84.6 111.6a1.5 1.5 0 1 0 3.0 0a1.5 1.5 0 1 0 -3.0 0zM87.3 128.0a1.5 1.5 0 1 0 3.0 0a1.5 1.5 0 1 0 -3.0 0zM90.0 147.8a1.5 1.5 0 1 0 3.0 0a1.5 1.5 0 1 0 -3.0 0zM92.7 156.5a1.5 1.5 0 1 0 3.0 0a1.5 1.5 0 1 0 -3.0 0zM95.4 161.5a1.5 1.5 0 1 0 3.0 0a1.5 1.5 0 1 0 -3.0 0zM98.1 165.6a1.5 1.5 0 1 0 3.0 0a1.5 1.5 0 1 0 -3.0 0zM100.8 167.9a1.5 1.5 0 1 0 3.0 0a1.5 1.5 0 1 0 -3.0 0zM103.6 169.6a1.5 1.5 0 1 0 3.0 0a1.5 1.5 0 1 0 -3.0 0zM106.3 170.6a1.5 1.5 0 1 0 3.0 0a1.5 1.5 0 1 0 -3.0 0zM109.0 171.2a1.5 1.5 0 1 0 3.0 0a1.5 1.5 0 1 0 -3.0 0zM111.7 171.7a1.5 1.5 0 1 0 3.0 0a1.5 1.5 0 1 0 -3.0 0zM114.4 172.3a1.5 1.5 0 1 0 3.0 0a1.5 1.5 0 1 0 -3.0 0zM117.1 172.8a1.5 1.5 0 1 0 3.0 0a1.5 1.5 0 1 0 -3.0 0zM119.8 173.5a1.5 1.5 0 1 0 3.0 0a1.5 1.5 0 1 0 -3.0 0zM122.5 174.2a1.5 1.5 0 1 0 3.0 0a1.5 1.5 0 1 0 -3.0 0zM125.3 174.9a1.5 1.5 0 1 0 3.0 0a1.5 1.5 0 1 0 -3.0 0zM128.0 175.6a1.5 1.5 0 1 0 3.0 0a1.5 1.5 0 1 0 -3.0 0zM130.7 176.4a1.5 1.5 0 1 0 3.0 0a1.5 1.5 0 1 0 -3.0 0zM133.4 177.1a1.5 1.5 0 1 0 3.0 0a1.5 1.5 0 1 0 -3.0 0zM136.1 177.9a1.5 1.5 0 1 0 3.0 0a1.5 1.5 0 1 0 -3.0 0zM138.8 178.7a1.5 1.5 0 1 0 3.0 0a1.5 1.5 0 1 0 -3.0 0zM141.5 179.4a1.5 1.5 0 1 0 3.0 0a1.5 1.5 0 1 0 -3.0 0zM144.2 180.1a1.5 1.5 0 1 0 3.0 0a1.5 1.5 0 1 0 -3.0 0zM147.0 180.9a1.5 1.5 0 1 0 3.0 0a1.5 1.5 0 1 0 -3.0 0zM149.7 181.6a1.5 1.5 0 1 0 3.0 0a1.5 1.5 0 1 0 -3.0 0zM152.4 182.8a1.5 1.5 0 1 0 3.0 0a1.5 1.5 0 1 0 -3.0 0zM155.1 185.3a1.5 1.5 0 1 0 3.0 0a1.5 1.5 0 1 0 -3.0 0zM157.8 188.6a1.5 1.5 0 1 0 3.0 0a1.5 1.5 0 1 0 -3.0 0zM160.5 192.2a1.5 1.5 0 1 0 3.0 0a1.5 1.5 0 1 0 -3.0 0zM163.2 195.5a1.5 1.5 0 1 0 3.0 0a1.5 1.5 0 1 0 -3.0 0zM165.9 198.3a1.5 1.5 0 1 0 3.0 0a1.5 1.5 0 1 0 -3.0 0zM168.7 199.5a1.5 1.5 0 1 0 3.0 0a1.5 1.5 0 1 0 -3.0 0zM171.4 200.2a1.5 1.5 0 1 0 3.0 0a1.5 1.5 0 1 0 -3.0 0zM174.1 200.9a1.5 1.5 0 1 0 3.0 0a1.5 1.5 0 1 0 -3.0 0zM176.8 202.0a1.5 1.5 0 1 0 3.0 0a1.5 1.5 0 1 0 -3.0 0zM179.5 202.5a1.5 1.5 0 1 0 3.0 0a1.5 1.5 0 1 0 -3.0 0zM182.2 203.2a1.5 1.5 0 1 0 3.0 0a1.5 1.5 0 1 0 -3.0 0zM184.9 203.9a1.5 1.5 0 1 0 3.0 0a1.5 1.5 0 1 0 -3.0 0zM187.7 204.2a1.5 1.5 0 1 0 3.0 0a1.5 1.5 0 1 0 -3.0 0zM190.4 204.8a1.5 1.5 0 1 0 3.0 0a1.5 1.5 0 1 0 -3.0 0zM193.1 205.2a1.5 1.5 0 1 0 3.0 0a1.5 1.5 0 1 0 -3.0 0zM195.8 205.8a1.5 1.5 0 1 0 3.0 0a1.5 1.5 0 1 0 -3.0 0zM198.5 206.0a1.5 1.5 0 1 0 3.0 0a1.5 1.5 0 1 0 -3.0 0zM201.2 206.6a1.5 1.5 0 1 0 3.0 0a1.5 1.5 0 1 0 -3.0 0zM203.9 206.9a1.5 1.5 0 1 0 3.0 0a1.5 1.5 0 1 0 -3.0 0zM206.6 207.2a1.5 1.5 0 1 0 3.0 0a1.5 1.5 0 1 0 -3.0 0zM209.4 207.8a1.5 1.5 0 1 0 3.0 0a1.5 1.5 0 1 0 -3.0 0zM212.1 208.0a1.5 1.5 0 1 0 3.0 0a1.5 1.5 0 1 0 -3.0 0zM214.8 208.7a1.5 1.5 0 1 0 3.0 0a1.5 1.5 0 1 0 -3.0 0zM217.5 208.9a1.5 1.5 0 1 0 3.0 0a1.5 1.5 0 1 0 -3.0 0zM220.2 209.4a1.5 1.5 0 1 0 3.0 0a1.5 1.5 0 1 0 -3.0 0zM222.9 209.7a1.5 1.5 0 1 0 3.0 0a1.5 1.5 0 1 0 -3.0 0zM225.6 210.2a1.5 1.5 0 1 0 3.0 0a1.5 1.5 0 1 0 -3.0 0zM228.3 210.3a1.5 1.5 0 1 0 3.0 0a1.5 1.5 0 1 0 -3.0 0zM231.1 210.9a1.5 1.5 0 1 0 3.0 0a1.5 1.5 0 1 0 -3.0 0zM233.8 211.2a1.5 1.5 0 1 0 3.0 0a1.5 1.5 0 1 0 -3.0 0zM236.5 211.7a1.5 1.5 0 1 0 3.0 0a1.5 1.5 0 1 0 -3.0 0zM239.2 212.1a1.5 1.5 0 1 0 3.0 0a1.5 1.5 0 1 0 -3.0 0zM241.9 212.5a1.5 1.5 0 1 0 3.0 0a1.5 1.5 0 1 0 -3.0 0zM244.6 212.7a1.5 1.5 0 1 0 3.0 0a1.5 1.5 0 1 0 -3.0 0zM247.3 213.3a1.5 1.5 0 1 0 3.0 0a1.5 1.5 0 1 0 -3.0 0zM250.0 213.6a1.5 1.5 0 1 0 3.0 0a1.5 1.5 0 1 0 -3.0 0zM252.8 213.7a1.5 1.5 0 1 0 3.0 0a1.5 1.5 0 1 0 -3.0 0zM255.5 214.1a1.5 1.5 0 1 0 3.0 0a1.5 1.5 0 1 0 -3.0 0zM258.2 214.4a1.5 1.5 0 1 0 3.0 0a1.5 1.5 0 1 0 -3.0 0zM260.9 214.9a1.5 1.5 0 1 0 3.0 0a1.5 1.5 0 1 0 -3.0 0zM263.6 215.3a1.5 1.5 0 1 0 3.0 0a1.5 1.5 0 1 0 -3.0 0zM266.3 215.3a1.5 1.5 0 1 0 3.0 0a1.5 1.5 0 1 0 -3.0 0zM269.0 215.7a1.5 1.5 0 1 0 3.0 0a1.5 1.5 0 1 0 -3.0 0zM271.7 216.0a1.5 1.5 0 1 0 3.0 0a1.5 1.5 0 1 0 -3.0 0zM274.5 216.3a1.5 1.5 0 1 0 3.0 0a1.5 1.5 0 1 0 -3.0 0zM277.2 216.6a1.5 1.5 0 1 0 3.0 0a1.5 1.5 0 1 0 -3.0 0zM279.9 217.1a1.5 1.5 0 1 0 3.0 0a1.5 1.5 0 1 0 -3.0 0zM282.6 217.2a1.5 1.5 0 1 0 3.0 0a1.5 1.5 0 1 0 -3.0 0zM285.3 217.8a1.5 1.5 0 1 0 3.0 0a1.5 1.5 0 1 0 -3.0 0zM288.0 218.0a1.5 1.5 0 1 0 3.0 0a1.5 1.5 0 1 0 -3.0 0zM290.7 218.1a1.5 1.5 0 1 0 3.0 0a1.5 1.5 0 1 0 -3.0 0zM293.4 218.3a1.5 1.5 0 1 0 3.0 0a1.5 1.5 0 1 0 -3.0 0zM296.2 218.7a1.5 1.5 0 1 0 3.0 0a1.5 1.5 0 1 0 -3.0 0zM298.9 219.1a1.5 1.5 0 1 0 3.0 0a1.5 1.5 0 1 0 -3.0 0zM301.6 219.2a1.5 1.5 0 1 0 3.0 0a1.5 1.5 0 1 0 -3.0 0zM304.3 219.4a1.5 1.5 0 1 0 3.0 0a1.5 1.5 0 1 0 -3.0 0zM307.0 219.8a1.5 1.5 0 1 0 3.0 0a1.5 1.5 0 1 0 -3.0 0zM309.7 220.2a1.5 1.5 0 1 0 3.0 0a1.5 1.5 0 1 0 -3.0 0zM312.4 220.3a1.5 1.5 0 1 0 3.0 0a1.5 1.5 0 1 0 -3.0 0zM315.2 220.8a1.5 1.5 0 1 0 3.0 0a1.5 1.5 0 1 0 -3.0 0zM317.9 220.9a1.5 1.5 0 1 0 3.0 0a1.5 1.5 0 1 0 -3.0 0zM320.6 221.2a1.5 1.5 0 1 0 3.0 0a1.5 1.5 0 1 0 -3.0 0zM323.3 221.4a1.5 1.5 0 1 0 3.0 0a1.5 1.5 0 1 0 -3.0 0zM326.0 221.7a1.5 1.5 0 1 0 3.0 0a1.5 1.5 0 1 0 -3.0 0zM328.7 222.0a1.5 1.5 0 1 0 3.0 0a1.5 1.5 0 1 0 -3.0 0zM331.4 222.0a1.5 1.5 0 1 0 3.0 0a1.5 1.5 0 1 0 -3.0 0zM334.1 222.5a1.5 1.5 0 1 0 3.0 0a1.5 1.5 0 1 0 -3.0 0zM336.9 222.6a1.5 1.5 0 1 0 3.0 0a1.5 1.5 0 1 0 -3.0 0zM339.6 223.0a1.5 1.5 0 1 0 3.0 0a1.5 1.5 0 1 0 -3.0 0zM342.3 223.2a1.5 1.5 0 1 0 3.0 0a1.5 1.5 0 1 0 -3.0 0zM345.0 223.8a1.5 1.5 0 1 0 3.0 0a1.5 1.5 0 1 0 -3.0 0zM347.7 223.9a1.5 1.5 0 1 0 3.0 0a1.5 1.5 0 1 0 -3.0 0zM350.4 224.2a1.5 1.5 0 1 0 3.0 0a1.5 1.5 0 1 0 -3.0 0zM353.1 224.5a1.5 1.5 0 1 0 3.0 0a1.5 1.5 0 1 0 -3.0 0zM355.8 224.5a1.5 1.5 0 1 0 3.0 0a1.5 1.5 0 1 0 -3.0 0zM358.6 224.7a1.5 1.5 0 1 0 3.0 0a1.5 1.5 0 1 0 -3.0 0zM361.3 225.1a1.5 1.5 0 1 0 3.0 0a1.5 1.5 0 1 0 -3.0 0zM364.0 225.4a1.5 1.5 0 1 0 3.0 0a1.5 1.5 0 1 0 -3.0 0zM366.7 225.6a1.5 1.5 0 1 0 3.0 0a1.5 1.5 0 1 0 -3.0 0zM369.4 225.9a1.5 1.5 0 1 0 3.0 0a1.5 1.5 0 1 0 -3.0 0zM372.1 226.1a1.5 1.5 0 1 0 3.0 0a1.5 1.5 0 1 0 -3.0 0zM374.8 226.1a1.5 1.5 0 1 0 3.0 0a1.5 1.5 0 1 0 -3.0 0zM377.5 226.5a1.5 1.5 0 1 0 3.0 0a1.5 1.5 0 1 0 -3.0 0zM380.3 226.9a1.5 1.5 0 1 0 3.0 0a1.5 1.5 0 1 0 -3.0 0zM383.0 226.8a1.5 1.5 0 1 0 3.0 0a1.5 1.5 0 1 0 -3.0 0zM385.7 226.9a1.5 1.5 0 1 0 3.0 0a1.5 1.5 0 1 0 -3.0 0zM388.4 227.3a1.5 1.5 0 1 0 3.0 0a1.5 1.5 0 1 0 -3.0 0zM391.1 227.5a1.5 1.5 0 1 0 3.0 0a1.5 1.5 0 1 0 -3.0 0zM393.8 227.8a1.5 1.5 0 1 0 3.0 0a1.5 1.5 0 1 0 -3.0 0zM396.5 227.9a1.5 1.5 0 1 0 3.0 0a1.5 1.5 0 1 0 -3.0 0zM399.2 228.2a1.5 1.5 0 1 0 3.0 0a1.5 1.5 0 1 0 -3.0 0zM402.0 228.2a1.5 1.5 0 1 0 3.0 0a1.5 1.5 0 1 0 -3.0 0zM404.7 228.7a1.5 1.5 0 1 0 3.0 0a1.5 1.5 0 1 0 -3.0 0zM407.4 229.0a1.5 1.5 0 1 0 3.0 0a1.5 1.5 0 1 0 -3.0 0zM410.1 229.2a1.5 1.5 0 1 0 3.0 0a1.5 1.5 0 1 0 -3.0 0z" stroke="#8a00ff" stroke-width="3" fill="#8a00ff"/>
<path d="M72.5 19.2L75.3 23.8H69.7ZM75.2 65.8L78.1 70.4H72.4ZM77.9 116.8L80.8 121.4H75.1ZM80.6 155.8L83.5 160.4H77.8ZM83.4 165.3L86.2 169.9H80.5ZM86.1 168.6L88.9 173.2H83.2ZM88.8 169.8L91.6 174.4H85.9ZM91.5 170.7L94.3 175.3H88.6ZM94.2 171.6L97.1 176.2H91.4ZM96.9 171.7L99.8 176.3H94.1ZM99.6 172.8L102.5 177.5H96.8ZM102.3 173.0L105.2 177.6H99.5ZM105.1 174.3L107.9 178.9H102.2ZM107.8 174.4L110.6 179.0H104.9ZM110.5 175.5L113.3 180.1H107.6ZM113.2 175.8L116.0 180.4H110.3ZM115.9 176.8L118.8 181.4H113.1ZM118.6 177.0L121.5 181.6H115.8ZM121.3 178.2L124.2 182.8H118.5ZM124.0 178.2L126.9 182.8H121.2ZM126.8 179.4L129.6 184.0H123.9ZM129.5 179.6L132.3 184.2H126.6ZM132.2 180.6L135.0 185.2H129.3ZM134.9 180.6L137.7 185.3H132.0ZM137.6 181.8L140.5 186.4H134.8ZM140.3 182.0L143.2 186.6H137.5ZM143.0 183.1L145.9 187.8H140.2ZM145.7 183.3L148.6 187.9H142.9ZM148.5 184.3L151.3 188.9H145.6ZM151.2 184.3L154.0 188.9H148.3ZM153.9 185.6L156.7 190.2H151.0ZM156.6 186.5L159.4 191.2H153.7ZM159.3 189.6L162.2 194.3H156.5ZM162.0 191.6L164.9 196.2H159.2ZM164.7 194.6L167.6 199.2H161.9ZM167.4 195.5L170.3 200.1H164.6ZM170.2 197.4L173.0 202.0H167.3ZM172.9 198.7L175.7 203.4H170.0ZM175.6 199.8L178.4 204.4H172.7ZM178.3 200.2L181.1 204.8H175.4ZM181.0 201.5L183.9 206.1H178.2ZM183.7 202.2L186.6 206.8H180.9ZM186.4 202.7L189.3 207.3H183.6ZM189.2 203.4L192.0 208.0H186.3ZM191.9 203.8L194.7 208.4H189.0ZM194.6 204.4L197.4 209.0H191.7ZM197.3 204.8L200.1 209.4H194.4ZM200.0 205.2L202.9 209.9H197.2ZM202.7 205.2L205.6 209.9H199.9ZM205.4 205.7L208.3 210.3H202.6ZM208.1 206.1L211.0 210.7H205.3ZM210.9 206.6L213.7 211.2H208.0ZM213.6 206.8L216.4 211.5H210.7ZM216.3 207.4L219.1 212.0H213.4ZM219.0 207.3L221.8 211.9H216.1ZM221.7 207.7L224.6 212.3H218.9ZM224.4 208.1L227.3 212.7H221.6ZM227.1 208.3L230.0 212.9H224.3ZM229.8 208.7L232.7 213.4H227.0ZM232.6 208.9L235.4 213.5H229.7ZM235.3 209.5L238.1 214.1H232.4ZM238.0 209.5L240.8 214.2H235.1ZM240.7 210.1L243.5 214.7H237.8ZM243.4 210.2L246.3 214.8H240.6ZM246.1 210.7L249.0 215.3H243.3ZM248.8 210.6L251.7 215.2H246.0ZM251.5 211.2L254.4 215.8H248.7ZM254.3 211.3L257.1 216.0H251.4ZM257.0 211.8L259.8 216.4H254.1ZM259.7 212.2L262.5 216.8H256.8ZM262.4 212.2L265.2 216.8H259.5ZM265.1 212.4L268.0 217.1H262.3ZM267.8 212.8L270.7 217.4H265.0ZM270.5 213.3L273.4 217.9H267.7ZM273.2 213.3L276.1 217.9H270.4ZM276.0 213.9L278.8 218.5H273.1ZM278.7 214.0L281.5 218.6H275.8ZM281.4 214.3L284.2 218.9H278.5ZM284.1 214.6L286.9 219.3H281.2ZM286.8 215.0L289.7 219.6H284.0ZM289.5 215.1L292.4 219.8H286.7ZM292.2 215.4L295.1 220.0H289.4ZM294.9 215.7L297.8 220.4H292.1ZM297.7 216.0L300.5 220.6H294.8ZM300.4 215.9L303.2 220.5H297.5ZM303.1 216.5L305.9 221.1H300.2ZM305.8 216.8L308.7 221.4H303.0ZM308.5 217.2L311.4 221.8H305.7ZM311.2 217.6L314.1 222.3H308.4ZM313.9 217.7L316.8 222.3H311.1ZM316.7 217.9L319.5 222.5H313.8ZM319.4 218.0L322.2 222.7H316.5ZM322.1 218.5L324.9 223.1H319.2ZM324.8 218.9L327.6 223.5H321.9ZM327.5 219.2L330.4 223.8H324.7ZM330.2 219.2L333.1 223.8H327.4ZM332.9 219.6L335.8 224.2H330.1ZM335.6 220.0L338.5 224.6H332.8ZM338.4 220.4L341.2 225.1H335.5ZM341.1 220.5L343.9 225.1H338.2ZM343.8 220.6L346.6 225.3H340.9ZM346.5 220.9L349.3 225.5H343.6ZM349.2 221.2L352.1 225.8H346.4ZM351.9 221.5L354.8 226.1H349.1ZM354.6 222.0L357.5 226.6H351.8ZM357.3 222.3L360.2 226.9H354.5ZM360.1 222.5L362.9 227.1H357.2ZM362.8 222.8L365.6 227.4H359.9ZM365.5 222.8L368.3 227.4H362.6ZM368.2 223.1L371.0 227.7H365.3ZM370.9 223.2L373.8 227.8H368.1ZM373.6 223.5L376.5 228.1H370.8ZM376.3 223.9L379.2 228.5H373.5ZM379.0 223.9L381.9 228.6H376.2ZM381.8 223.9L384.6 228.5H378.9ZM384.5 224.3L387.3 229.0H381.6ZM387.2 224.5L390.0 229.1H384.3ZM389.9 224.6L392.7 229.2H387.0ZM392.6 224.9L395.5 229.5H389.8ZM395.3 225.4L398.2 230.0H392.5ZM398.0 225.7L400.9 230.3H395.2ZM400.7 225.6L403.6 230.2H397.9ZM403.5 226.1L406.3 230.7H400.6ZM406.2 226.3L409.0 230.9H403.3ZM408.9 226.2L411.7 230.8H406.0ZM411.6 226.6L414.5 231.2H408.8Z" stroke="#4000ff" stroke-width="1.5" fill="none"/>
<path d="M72.0 21.9h1.0v1.0h-1.0zM74.7 68.5h1.0v1.0h-1.0zM77.4 119.5h1.0v1.0h-1.0zM80.1 158.5h1.0v1.0h-1.0zM82.9 168.0h1.0v1.0h-1.0zM85.6 171.3h1.0v1.0h-1.0zM88.3 172.5h1.0v1.0h-1.0zM91.0 173.4h1.0v1.0h-1.0zM93.7 174.3h1.0v1.0h-1.0zM96.4 174.4h1.0v1.0h-1.0zM99.1 175.5h1.0v1.0h-1.0zM101.8 175.7h1.0v1.0h-1.0zM104.6 177.0h1.0v1.0h-1.0zM107.3 177.0h1.0v1.0h-1.0zM110.0 178.2h1.0v1.0h-1.0zM112.7 178.5h1.0v1.0h-1.0zM115.4 179.5h1.0v1.0h-1.0zM118.1 179.7h1.0v1.0h-1.0zM120.8 180.8h1.0v1.0h-1.0zM123.5 180.9h1.0v1.0h-1.0zM126.3 182.1h1.0v1.0h-1.0zM129.0 182.3h1.0v1.0h-1.0zM131.7 183.3h1.0v1.0h-1.0zM134.4 183.3h1.0v1.0h-1.0zM137.1 184.5h1.0v1.0h-1.0zM139.8 184.7h1.0v1.0h-1.0zM142.5 185.8h1.0v1.0h-1.0zM145.2 186.0h1.0v1.0h-1.0zM148.0 187.0h1.0v1.0h-1.0zM150.7 187.0h1.0v1.0h-1.0zM153.4 188.3h1.0v1.0h-1.0zM156.1 189.2h1.0v1.0h-1.0zM158.8 192.3h1.0v1.0h-1.0zM161.5 194.3h1.0v1.0h-1.0zM164.2 197.3h1.0v1.0h-1.0zM166.9 198.2h1.0v1.0h-1.0zM169.7 200.1h1.0v1.0h-1.0zM172.4 201.4h1.0v1.0h-1.0zM175.1 202.5h1.0v1.0h-1.0zM177.8 202.8h1.0v1.0h-1.0zM180.5 204.1h1.0v1.0h-1.0zM183.2 204.9h1.0v1.0h-1.0zM185.9 205.4h1.0v1.0h-1.0zM188.7 206.1h1.0v1.0h-1.0zM191.4 206.5h1.0v1.0h-1.0zM194.1 207.1h1.0v1.0h-1.0zM196.8 207.4h1.0v1.0h-1.0zM199.5 207.9h1.0v1.0h-1.0zM202.2 207.9h1.0v1.0h-1.0zM204.9 208.4h1.0v1.0h-1.0zM207.6 208.8h1.0v1.0h-1.0zM210.4 209.2h1.0v1.0h-1.0zM213.1 209.5h1.0v1.0h-1.0zM215.8 210.1h1.0v1.0h-1.0zM218.5 210.0h1.0v1.0h-1.0zM221.2 210.4h1.0v1.0h-1.0zM223.9 210.8h1.0v1.0h-1.0zM226.6 211.0h1.0v1.0h-1.0zM229.3 211.4h1.0v1.0h-1.0zM232.1 211.6h1.0v1.0h-1.0zM234.8 212.2h1.0v1.0h-1.0zM237.5 212.2h1.0v1.0h-1.0zM240.2 212.7h1.0v1.0h-1.0zM242.9 212.9h1.0v1.0h-1.0zM245.6 213.4h1.0v1.0h-1.0zM248.3 213.3h1.0v1.0h-1.0zM251.0 213.9h1.0v1.0h-1.0zM253.8 214.0h1.0v1.0h-1.0zM256.5 214.4h1.0v1.0h-1.0zM259.2 214.9h1.0v1.0h-1.0zM261.9 214.8h1.0v1.0h-1.0zM264.6 215.1h1.0v1.0h-1.0zM267.3 215.5h1.0v1.0h-1.0zM270.0 216.0h1.0v1.0h-1.0zM272.7 216.0h1.0v1.0h-1.0zM275.5 216.6h1.0v1.0h-1.0zM278.2 216.7h1.0v1.0h-1.0zM280.9 217.0h1.0v1.0h-1.0zM283.6 217.3h1.0v1.0h-1.0zM286.3 217.7h1.0v1.0h-1.0zM289.0 217.8h1.0v1.0h-1.0zM291.7 218.1h1.0v1.0h-1.0zM294.4 218.4h1.0v1.0h-1.0zM297.2 218.7h1.0v1.0h-1.0zM299.9 218.6h1.0v1.0h-1.0zM302.6 219.2h1.0v1.0h-1.0zM305.3 219.5h1.0v1.0h-1.0zM308.0 219.9h1.0v1.0h-1.0zM310.7 220.3h1.0v1.0h-1.0zM313.4 220.4h1.0v1.0h-1.0zM316.2 220.6h1.0v1.0h-1.0zM318.9 220.7h1.0v1.0h-1.0zM321.6 221.2h1.0v1.0h-1.0zM324.3 221.6h1.0v1.0h-1.0zM327.0 221.9h1.0v1.0h-1.0zM329.7 221.9h1.0v1.0h-1.0zM332.4 222.3h1.0v1.0h-1.0zM335.1 222.7h1.0v1.0h-1.0zM337.9 223.1h1.0v1.0h-1.0zM340.6 223.2h1.0v1.0h-1.0zM343.3 223.3h1.0v1.0h-1.0zM346.0 223.6h1.0v1.0h-1.0zM348.7 223.9h1.0v1.0h-1.0zM351.4 224.2h1.0v1.0h-1.0zM354.1 224.7h1.0v1.0h-1.0zM356.8 225.0h1.0v1.0h-1.0zM359.6 225.2h1.0v1.0h-1.0zM362.3 225.5h1.0v1.0h-1.0zM365.0 225.5h1.0v1.0h-1.0zM367.7 225.8h1.0v1.0h-1.0zM370.4 225.9h1.0v1.0h-1.0zM373.1 226.2h1.0v1.0h-1.0zM375.8 226.6h1.0v1.0h-1.0zM378.5 226.6h1.0v1.0h-1.0zM381.3 226.6h1.0v1.0h-1.0zM384.0 227.0h1.0v1.0h-1.0zM386.7 227.2h1.0v1.0h-1.0zM389.4 227.3h1.0v1.0h-1.0zM392.1 227.6h1.0v1.0h-1.0zM394.8 228.1h1.0v1.0h-1.0zM397.5 228.4h1.0v1.0h-1.0zM400.2 228.3h1.0v1.0h-1.0zM403.0 228.8h1.0v1.0h-1.0zM405.7 229.0h1.0v1.0h-1.0zM408.4 228.9h1.0v1.0h-1.0zM411.1 229.3h1.0v1.0h-1.0z" fill="#4000ff"/>
<path d="M75.80 149.60L79.30 157.00L82.80 163.70L87.80 170.90L91.00 173.60L95.00 176.00L100.00 178.10L106.50 180.30L115.00 182.80L120.45 183.67L123.88 184.62L127.30 185.52L130.73 186.36L134.15 187.17L137.58 187.93L141.01 188.66L144.43 189.37L147.86 190.04L151.28 190.68L154.71 191.31L158.13 191.91L161.56 192.49L164.98 193.06L168.41 193.60L171.83 194.13L175.26 194.65L178.68 195.15L182.11 195.64L185.53 196.12L188.96 196.59L192.38 197.04L195.81 197.49L199.23 197.92L202.66 198.35L206.08 198.77L209.51 199.18L212.94 199.58L216.36 199.98L219.79 200.37L223.21 200.75L226.64 201.12L230.06 201.49L233.49 201.86L236.91 202.21L240.34 202.57L243.76 202.92L247.19 203.26L250.61 203.60L254.04 203.93L257.46 204.26L260.89 204.59L264.31 204.91L267.74 205.23L271.16 205.54L274.59 205.85L278.02 206.16L281.44 206.46L284.87 206.76L288.29 207.06L291.72 207.35L295.14 207.64L298.57 207.93L301.99 208.22L305.42 208.50L308.84 208.78L312.27 209.06L315.69 209.34L319.12 209.61L322.54 209.88L325.97 210.15L329.39 210.42L332.82 210.68L336.24 210.95L339.67 211.21L343.09 211.47L346.52 211.72L349.95 211.98L353.37 212.23L356.80 212.48L360.22 212.74L363.65 212.98L367.07 213.23L370.50 213.48L373.92 213.72L377.35 213.96L380.77 214.20L384.20 214.44L387.62 214.68L391.05 214.92L394.47 215.16L397.90 215.39L401.32 215.62L404.75 215.86L408.17 216.09L411.60 216.32" stroke="#c2c2c2" stroke-width="2.1" stroke-dasharray="9.9 4.9" stroke-dashoffset="14.80" fill="none"/>
<path d="M82.78 111.00L86.20 155.90L89.63 164.63L93.05 169.85L96.48 173.60L99.90 176.55L103.33 178.98L106.75 181.07L110.18 182.90L113.60 184.53L117.03 186.00L120.45 187.35L123.88 188.59L127.30 189.75L130.73 190.83L134.15 191.85L137.58 192.82L141.01 193.73L144.43 194.60L147.86 195.44L151.28 196.23L154.71 197.00L158.13 197.74L161.56 198.45L164.98 199.14L168.41 199.81L171.83 200.46L175.26 201.09L178.68 201.70L182.11 202.30L185.53 202.89L188.96 203.46L192.38 204.01L195.81 204.56L199.23 205.09L202.66 205.62L206.08 206.13L209.51 206.64L212.94 207.13L216.36 207.62L219.79 208.10L223.21 208.58L226.64 209.04L230.06 209.50L233.49 209.95L236.91 210.40L240.34 210.84L243.76 211.28L247.19 211.71L250.61 212.13L254.04 212.55L257.46 212.97L260.89 213.38L264.31 213.79L267.74 214.19L271.16 214.59L274.59 214.99L278.02 215.38L281.44 215.77L284.87 216.15L288.29 216.53L291.72 216.91L295.14 217.29L298.57 217.66L301.99 218.03L305.42 218.40L308.84 218.77L312.27 219.13L315.69 219.49L319.12 219.85L322.54 220.21L325.97 220.56L329.39 220.91L332.82 221.26L336.24 221.61L339.67 221.96L343.09 222.30L346.52 222.65L349.95 222.99L353.37 223.33L356.80 223.66L360.22 224.00L363.65 224.34L367.07 224.67L370.50 225.00L373.92 225.33L377.35 225.66L380.77 225.99L384.20 226.32L387.62 226.64L391.05 226.97L394.47 227.29L397.90 227.61L401.32 227.94L404.75 228.26L408.17 228.57L411.60 228.89" stroke="#000" stroke-width="2.4" stroke-dasharray="14.8 4.9 2.47 4.9" stroke-dashoffset="1.98" fill="none"/>
<rect x="72.5" y="19.4" width="339.1" height="213.75" fill="none" stroke="#000" stroke-width="1"/><path d="M72.5 224.02h2M411.6 224.02h-2M72.5 218.89h2M411.6 218.89h-2M72.5 215.25h2M411.6 215.25h-2M72.5 212.43h2M411.6 212.43h-2M72.5 210.12h2M411.6 210.12h-2M72.5 208.17h2M411.6 208.17h-2M72.5 206.47h2M411.6 206.47h-2M72.5 204.98h2M411.6 204.98h-2M72.5 203.65h4M411.6 203.65h-4M72.5 194.87h2M411.6 194.87h-2M72.5 189.74h2M411.6 189.74h-2M72.5 186.10h2M411.6 186.10h-2M72.5 183.28h2M411.6 183.28h-2M72.5 180.97h2M411.6 180.97h-2M72.5 179.02h2M411.6 179.02h-2M72.5 177.32h2M411.6 177.32h-2M72.5 175.83h2M411.6 175.83h-2M72.5 174.50h4M411.6 174.50h-4M72.5 165.72h2M411.6 165.72h-2M72.5 160.59h2M411.6 160.59h-2M72.5 156.95h2M411.6 156.95h-2M72.5 154.13h2M411.6 154.13h-2M72.5 151.82h2M411.6 151.82h-2M72.5 149.87h2M411.6 149.87h-2M72.5 148.17h2M411.6 148.17h-2M72.5 146.68h2M411.6 146.68h-2M72.5 145.35h4M411.6 145.35h-4M72.5 136.57h2M411.6 136.57h-2M72.5 131.44h2M411.6 131.44h-2M72.5 127.80h2M411.6 127.80h-2M72.5 124.98h2M411.6 124.98h-2M72.5 122.67h2M411.6 122.67h-2M72.5 120.72h2M411.6 120.72h-2M72.5 119.02h2M411.6 119.02h-2M72.5 117.53h2M411.6 117.53h-2M72.5 116.20h4M411.6 116.20h-4M72.5 107.42h2M411.6 107.42h-2M72.5 102.29h2M411.6 102.29h-2M72.5 98.65h2M411.6 98.65h-2M72.5 95.83h2M411.6 95.83h-2M72.5 93.52h2M411.6 93.52h-2M72.5 91.57h2M411.6 91.57h-2M72.5 89.87h2M411.6 89.87h-2M72.5 88.38h2M411.6 88.38h-2M72.5 87.05h4M411.6 87.05h-4M72.5 78.27h2M411.6 78.27h-2M72.5 73.14h2M411.6 73.14h-2M72.5 69.50h2M411.6 69.50h-2M72.5 66.68h2M411.6 66.68h-2M72.5 64.37h2M411.6 64.37h-2M72.5 62.42h2M411.6 62.42h-2M72.5 60.72h2M411.6 60.72h-2M72.5 59.23h2M411.6 59.23h-2M72.5 57.90h4M411.6 57.90h-4M72.5 49.12h2M411.6 49.12h-2M72.5 43.99h2M411.6 43.99h-2M72.5 40.35h2M411.6 40.35h-2M72.5 37.53h2M411.6 37.53h-2M72.5 35.22h2M411.6 35.22h-2M72.5 33.27h2M411.6 33.27h-2M72.5 31.57h2M411.6 31.57h-2M72.5 30.08h2M411.6 30.08h-2M72.5 28.75h4M411.6 28.75h-4M72.5 19.97h2M411.6 19.97h-2M72.50 233.15v-4M72.50 19.4v4M140.32 233.15v-4M140.32 19.4v4M208.14 233.15v-4M208.14 19.4v4M275.96 233.15v-4M275.96 19.4v4M343.78 233.15v-4M343.78 19.4v4M411.60 233.15v-4M411.60 19.4v4" stroke="#000" stroke-width="0.8" fill="none"/>
<text transform="translate(39.0 241.2) scale(1 1.1)" font-size="17.2">10</text>
<text transform="translate(56.0 233.9) scale(1 1.1)" font-size="13.8">-1</text>
<text transform="translate(43.4 210.5) scale(1 1.1)" font-size="17.2">10</text>
<text transform="translate(60.4 203.2) scale(1 1.1)" font-size="13.8">0</text>
<text transform="translate(43.4 181.3) scale(1 1.1)" font-size="17.2">10</text>
<text transform="translate(60.4 174.0) scale(1 1.1)" font-size="13.8">1</text>
<text transform="translate(43.4 152.2) scale(1 1.1)" font-size="17.2">10</text>
<text transform="translate(60.4 144.9) scale(1 1.1)" font-size="13.8">2</text>
<text transform="translate(43.4 123.0) scale(1 1.1)" font-size="17.2">10</text>
<text transform="translate(60.4 115.7) scale(1 1.1)" font-size="13.8">3</text>
<text transform="translate(43.4 93.9) scale(1 1.1)" font-size="17.2">10</text>
<text transform="translate(60.4 86.6) scale(1 1.1)" font-size="13.8">4</text>
<text transform="translate(43.4 64.7) scale(1 1.1)" font-size="17.2">10</text>
<text transform="translate(60.4 57.4) scale(1 1.1)" font-size="13.8">5</text>
<text transform="translate(43.4 35.6) scale(1 1.1)" font-size="17.2">10</text>
<text transform="translate(60.4 28.3) scale(1 1.1)" font-size="13.8">6</text>
<text transform="translate(74.8 249.6) scale(1 1.1)" font-size="17.2" text-anchor="middle">3250</text>
<text transform="translate(142.6 249.6) scale(1 1.1)" font-size="17.2" text-anchor="middle">3260</text>
<text transform="translate(210.4 249.6) scale(1 1.1)" font-size="17.2" text-anchor="middle">3270</text>
<text transform="translate(278.3 249.6) scale(1 1.1)" font-size="17.2" text-anchor="middle">3280</text>
<text transform="translate(346.1 249.6) scale(1 1.1)" font-size="17.2" text-anchor="middle">3290</text>
<text transform="translate(413.9 249.6) scale(1 1.1)" font-size="17.2" text-anchor="middle">3300</text>
<text transform="translate(128.5 267.5)" font-size="17.2">Mode</text>
<text transform="translate(173.7 267.5)" font-size="17.2">frequency:</text>
<text transform="translate(251.4 267.5)" font-size="19.3">ω</text>
<text transform="translate(262.9 272.5)" font-size="13.8">m</text>
<text transform="translate(278.2 267.5)" font-size="17.2">(</text>
<text transform="translate(283.9 267.5) scale(1 1.1)" font-size="17.2">2</text>
<text transform="translate(292.3 267.5)" font-size="18.6">π</text>
<path d="M305.6 259.4l8.6 8.6m0 -8.6l-8.6 8.6" stroke="#000" stroke-width="1.15" fill="none"/>
<text transform="translate(318.4 267.5)" font-size="17.2">THz)</text>
<text transform="translate(22.2 179.5) rotate(-90) scale(1 1.04)" font-size="17.2">Population:<tspan dx="8.6">n</tspan><tspan dy="4.8" font-size="13.8">m</tspan></text>
<text transform="translate(229.3 49.6)" font-size="17.2">t=</text>
<text transform="translate(243.8 49.6) scale(1 1.1)" font-size="17.2">10</text>
<text transform="translate(265.3 49.6)" font-size="17.2">ps</text>
<text transform="translate(229.3 68.7)" font-size="17.2">t=</text>
<text transform="translate(243.8 68.7) scale(1 1.1)" font-size="17.2">50</text>
<text transform="translate(265.3 68.7)" font-size="17.2">ps</text>
<text transform="translate(229.3 87.7)" font-size="17.2">t=</text>
<text transform="translate(243.8 87.7) scale(1 1.1)" font-size="17.2">150</text>
<text transform="translate(273.9 87.7)" font-size="17.2">ps</text>
<text transform="translate(229.3 106.7)" font-size="17.2">t=</text>
<text transform="translate(243.8 106.7) scale(1 1.1)" font-size="17.2">300</text>
<text transform="translate(273.9 106.7)" font-size="17.2">ps</text>
<text transform="translate(229.3 125.6)" font-size="17.2">t=</text>
<text transform="translate(243.8 125.6) scale(1 1.1)" font-size="17.2">600</text>
<text transform="translate(273.9 125.6)" font-size="17.2">ps</text>
<text transform="translate(229.3 144.5)" font-size="17.2">Eqbm BE</text>
<text transform="translate(229.3 163.6)" font-size="17.2">BE fit (μ,T)</text>
<path d="M342.0 41.3L347.8 47.1M342.0 47.1L347.8 41.3" stroke="#ff0050" stroke-width="1.55" fill="none"/>
<path d="M342.0 60.4h5.7v5.7h-5.7z" stroke="#ff00aa" stroke-width="1.6" fill="none"/><path d="M344.4 62.7h1.0v1.0h-1.0z" fill="#ff00aa"/>
<path d="M341.9 82.0a2.85 2.85 0 1 0 5.7 0a2.85 2.85 0 1 0 -5.7 0z" stroke="#f800f8" stroke-width="1.55" fill="none"/><path d="M344.3 81.5h1.0v1.0h-1.0z" fill="#f800f8"/>
<circle cx="344.8" cy="100.9" r="3" fill="#8a00ff"/>
<path d="M344.8 116.6L347.7 121.2H341.9Z" stroke="#4000ff" stroke-width="1.5" fill="none"/><path d="M344.3 119.3h1.0v1.0h-1.0z" fill="#4000ff"/>
<path d="M322 138.8H367.6" stroke="#c2c2c2" stroke-width="2.1" stroke-dasharray="9.9 4.9" fill="none"/>
<path d="M322 157.6H364.5" stroke="#000" stroke-width="2.4" stroke-dasharray="14.8 4.9 2.47 4.9" fill="none"/>
</svg></body></html>
